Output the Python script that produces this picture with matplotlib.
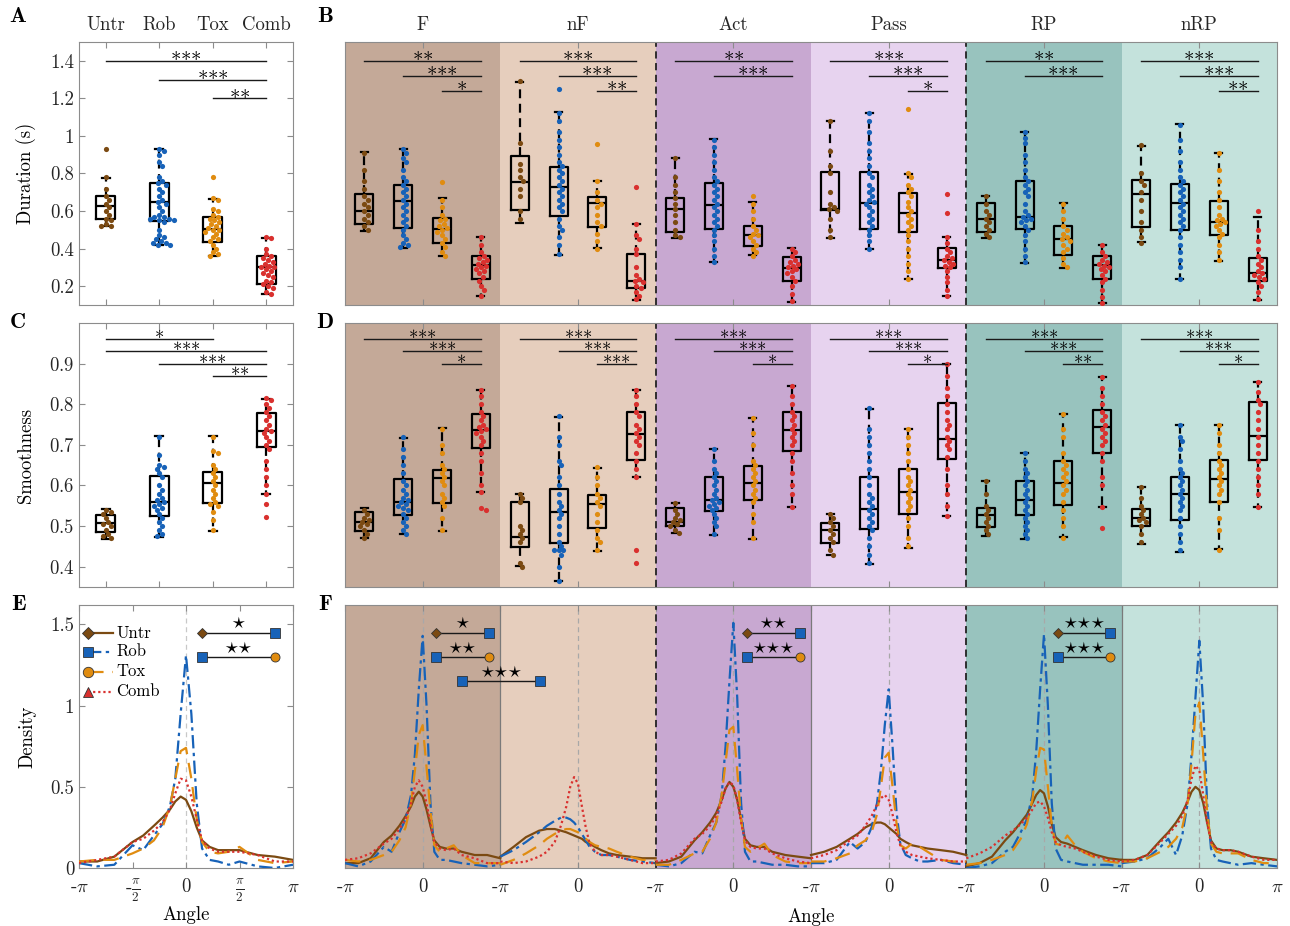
import matplotlib
matplotlib.use('Agg')
import numpy as np
import matplotlib.pyplot as plt

plt.rcParams['font.family'] = 'serif'
plt.rcParams['font.serif'] = ['cmr10']
plt.rcParams['mathtext.fontset'] = 'cm'
plt.rcParams['axes.unicode_minus'] = False
plt.rcParams['axes.formatter.use_mathtext'] = True

GROUPS = ['Untr', 'Rob', 'Tox', 'Comb']
COLORS = ['#7b4a12', '#1762b8', '#e08c10', '#d9302e']
MARKERS = ['D', 's', 'o', '^']
SECTIONS = ['F', 'nF', 'Act', 'Pass', 'RP', 'nRP']
SEC_BG = ['#c4a998', '#e6cebd', '#c8a8d1', '#e7d3ef', '#98c3be', '#c4e2dc']

# ---- duration: box stats [q1, median, q3, whisker low, whisker high] ----
DUR_BOX_ALL = [[0.556, 0.627, 0.68, 0.52, 0.778], [0.548, 0.646, 0.751, 0.42, 0.93],
               [0.436, 0.504, 0.57, 0.36, 0.664], [0.214, 0.30, 0.36, 0.16, 0.454]]
DUR_BOX_F = [[0.531, 0.602, 0.689, 0.495, 0.913], [0.511, 0.655, 0.739, 0.404, 0.929],
             [0.428, 0.506, 0.561, 0.36, 0.668], [0.237, 0.312, 0.362, 0.148, 0.46]]
DUR_BOX_NF = [[0.605, 0.755, 0.893, 0.538, 1.286], [0.573, 0.73, 0.833, 0.365, 1.126],
              [0.516, 0.641, 0.676, 0.401, 0.76], [0.188, 0.228, 0.371, 0.125, 0.529]]
DUR_BOX_ACT = [[0.49, 0.609, 0.668, 0.454, 0.881], [0.502, 0.632, 0.751, 0.33, 0.982],
               [0.413, 0.47, 0.522, 0.364, 0.646], [0.227, 0.298, 0.356, 0.116, 0.406]]
DUR_BOX_PASS = [[0.605, 0.61, 0.81, 0.458, 1.082], [0.504, 0.644, 0.81, 0.396, 1.124],
                [0.486, 0.591, 0.694, 0.241, 0.797], [0.298, 0.339, 0.404, 0.148, 0.46]]
DUR_BOX_RP = [[0.49, 0.556, 0.644, 0.454, 0.682], [0.502, 0.566, 0.76, 0.326, 1.023],
              [0.365, 0.451, 0.52, 0.298, 0.644], [0.236, 0.312, 0.36, 0.111, 0.418]]
DUR_BOX_NRP = [[0.516, 0.689, 0.765, 0.433, 0.948], [0.499, 0.641, 0.742, 0.237, 1.064],
               [0.472, 0.54, 0.653, 0.335, 0.908], [0.229, 0.273, 0.351, 0.129, 0.568]]

# ---- duration: individual points ----
DUR_PTS_ALL = [
    [0.93, 0.78, 0.72, 0.68, 0.66, 0.64, 0.62, 0.60, 0.58, 0.56, 0.55, 0.53, 0.52, 0.52],
    [0.93, 0.92, 0.90, 0.86, 0.84, 0.78, 0.76, 0.75, 0.74, 0.72, 0.70, 0.68, 0.66, 0.65, 0.64, 0.62, 0.60,
     0.58, 0.57, 0.57, 0.56, 0.56, 0.55, 0.55, 0.54, 0.50, 0.47, 0.46, 0.45, 0.44, 0.43, 0.43, 0.42, 0.42],
    [0.78, 0.67, 0.66, 0.61, 0.60, 0.58, 0.57, 0.56, 0.55, 0.54, 0.53, 0.52, 0.51, 0.50, 0.50, 0.49, 0.48,
     0.46, 0.45, 0.44, 0.42, 0.40, 0.38, 0.37, 0.36],
    [0.46, 0.455, 0.40, 0.37, 0.36, 0.35, 0.34, 0.33, 0.32, 0.31, 0.30, 0.30, 0.29, 0.28, 0.27, 0.26, 0.25,
     0.23, 0.22, 0.21, 0.20, 0.19, 0.17, 0.16]]
DUR_PTS_F = [
    [0.91, 0.82, 0.76, 0.72, 0.68, 0.66, 0.64, 0.62, 0.60, 0.58, 0.56, 0.54, 0.52, 0.50],
    [0.93, 0.91, 0.88, 0.86, 0.82, 0.78, 0.76, 0.74, 0.72, 0.70, 0.68, 0.66, 0.64, 0.62, 0.60, 0.58, 0.56,
     0.54, 0.52, 0.50, 0.47, 0.45, 0.43, 0.42, 0.41],
    [0.756, 0.66, 0.62, 0.58, 0.56, 0.55, 0.53, 0.52, 0.51, 0.50, 0.49, 0.47, 0.45, 0.43, 0.41, 0.38, 0.36],
    [0.46, 0.42, 0.38, 0.36, 0.35, 0.34, 0.33, 0.32, 0.31, 0.30, 0.29, 0.28, 0.27, 0.25, 0.23, 0.20, 0.18, 0.15]]
DUR_PTS_NF = [
    [1.29, 0.96, 0.85, 0.82, 0.78, 0.76, 0.72, 0.68, 0.60, 0.56],
    [1.25, 1.12, 1.08, 1.02, 0.98, 0.94, 0.90, 0.86, 0.84, 0.82, 0.80, 0.78, 0.76, 0.74, 0.72, 0.70, 0.68,
     0.66, 0.64, 0.62, 0.60, 0.56, 0.52, 0.50, 0.46, 0.42, 0.37],
    [0.957, 0.76, 0.70, 0.66, 0.64, 0.62, 0.58, 0.54, 0.52, 0.48, 0.44, 0.40],
    [0.726, 0.53, 0.47, 0.45, 0.40, 0.37, 0.30, 0.26, 0.24, 0.23, 0.22, 0.20, 0.19, 0.17, 0.15, 0.13]]
DUR_PTS_ACT = [
    [0.88, 0.78, 0.74, 0.70, 0.67, 0.64, 0.61, 0.58, 0.54, 0.50, 0.47, 0.46],
    [0.98, 0.94, 0.90, 0.86, 0.82, 0.78, 0.76, 0.74, 0.72, 0.70, 0.68, 0.66, 0.64, 0.62, 0.60, 0.58, 0.56,
     0.54, 0.52, 0.50, 0.47, 0.44, 0.40, 0.36, 0.33],
    [0.68, 0.64, 0.60, 0.56, 0.52, 0.50, 0.48, 0.47, 0.46, 0.44, 0.42, 0.40, 0.38, 0.36],
    [0.40, 0.38, 0.36, 0.34, 0.33, 0.32, 0.31, 0.30, 0.29, 0.28, 0.27, 0.25, 0.23, 0.20, 0.16, 0.12]]
DUR_PTS_PASS = [
    [1.08, 0.92, 0.84, 0.80, 0.70, 0.64, 0.62, 0.61, 0.60, 0.56, 0.50, 0.46],
    [1.12, 1.08, 1.02, 0.96, 0.92, 0.88, 0.84, 0.80, 0.78, 0.74, 0.72, 0.70, 0.68, 0.66, 0.65, 0.64, 0.62,
     0.60, 0.58, 0.56, 0.54, 0.52, 0.50, 0.47, 0.44, 0.40],
    [1.144, 0.80, 0.78, 0.74, 0.72, 0.70, 0.68, 0.65, 0.62, 0.60, 0.58, 0.56, 0.54, 0.52, 0.50, 0.47, 0.44,
     0.40, 0.36, 0.32, 0.28, 0.24],
    [0.689, 0.588, 0.46, 0.43, 0.40, 0.38, 0.36, 0.35, 0.34, 0.33, 0.32, 0.31, 0.30, 0.28, 0.25, 0.22, 0.18, 0.15]]
DUR_PTS_RP = [
    [0.68, 0.64, 0.60, 0.58, 0.56, 0.54, 0.52, 0.50, 0.48, 0.46],
    [1.02, 0.99, 0.96, 0.90, 0.86, 0.82, 0.78, 0.76, 0.74, 0.72, 0.70, 0.68, 0.64, 0.60, 0.58, 0.57, 0.56,
     0.55, 0.54, 0.52, 0.50, 0.47, 0.44, 0.40, 0.36, 0.33],
    [0.64, 0.60, 0.56, 0.52, 0.50, 0.48, 0.46, 0.45, 0.44, 0.42, 0.40, 0.38, 0.35, 0.32, 0.30],
    [0.42, 0.38, 0.36, 0.34, 0.33, 0.32, 0.31, 0.30, 0.29, 0.28, 0.26, 0.24, 0.22, 0.18, 0.14, 0.11]]
DUR_PTS_NRP = [
    [0.95, 0.80, 0.76, 0.74, 0.70, 0.66, 0.60, 0.54, 0.50, 0.46, 0.43],
    [1.06, 0.98, 0.92, 0.86, 0.82, 0.78, 0.76, 0.74, 0.72, 0.70, 0.68, 0.66, 0.64, 0.62, 0.60, 0.58, 0.56,
     0.54, 0.52, 0.50, 0.46, 0.42, 0.38, 0.34, 0.30, 0.24],
    [0.91, 0.82, 0.76, 0.70, 0.66, 0.62, 0.58, 0.56, 0.55, 0.54, 0.53, 0.52, 0.50, 0.48, 0.46, 0.42, 0.38, 0.34],
    [0.60, 0.50, 0.44, 0.40, 0.36, 0.34, 0.32, 0.30, 0.28, 0.27, 0.26, 0.25, 0.24, 0.22, 0.20, 0.17, 0.13]]

# ---- smoothness: box stats ----
SMO_BOX_ALL = [[0.485, 0.507, 0.527, 0.467, 0.542], [0.526, 0.56, 0.624, 0.472, 0.722],
               [0.556, 0.606, 0.632, 0.488, 0.722], [0.694, 0.733, 0.778, 0.578, 0.813]]
SMO_BOX_F = [[0.488, 0.511, 0.534, 0.47, 0.544], [0.527, 0.56, 0.616, 0.48, 0.718],
             [0.556, 0.618, 0.638, 0.488, 0.741], [0.692, 0.736, 0.777, 0.585, 0.836]]
SMO_BOX_NF = [[0.449, 0.474, 0.559, 0.402, 0.579], [0.458, 0.534, 0.592, 0.365, 0.768],
              [0.495, 0.555, 0.577, 0.439, 0.644], [0.663, 0.727, 0.782, 0.622, 0.834]]
SMO_BOX_ACT = [[0.501, 0.509, 0.544, 0.482, 0.556], [0.536, 0.564, 0.622, 0.478, 0.689],
               [0.563, 0.606, 0.647, 0.468, 0.766], [0.684, 0.737, 0.782, 0.546, 0.844]]
SMO_BOX_PASS = [[0.458, 0.49, 0.507, 0.429, 0.53], [0.493, 0.542, 0.62, 0.407, 0.789],
                [0.529, 0.583, 0.641, 0.447, 0.739], [0.665, 0.715, 0.803, 0.526, 0.898]]
SMO_BOX_RP = [[0.497, 0.527, 0.544, 0.476, 0.612], [0.527, 0.563, 0.612, 0.468, 0.681],
              [0.552, 0.606, 0.659, 0.472, 0.777], [0.68, 0.743, 0.787, 0.548, 0.867]]
SMO_BOX_NRP = [[0.499, 0.521, 0.542, 0.456, 0.597], [0.515, 0.579, 0.622, 0.435, 0.75],
               [0.559, 0.615, 0.663, 0.443, 0.75], [0.662, 0.723, 0.805, 0.548, 0.855]]

# ---- smoothness: individual points ----
SMO_PTS_ALL = [
    [0.54, 0.535, 0.53, 0.52, 0.51, 0.505, 0.50, 0.49, 0.48, 0.475, 0.47],
    [0.72, 0.675, 0.65, 0.645, 0.64, 0.63, 0.62, 0.60, 0.59, 0.58, 0.57, 0.565, 0.56, 0.555, 0.55, 0.545,
     0.54, 0.53, 0.52, 0.51, 0.50, 0.49, 0.48, 0.475],
    [0.72, 0.685, 0.68, 0.65, 0.64, 0.63, 0.62, 0.61, 0.60, 0.59, 0.58, 0.57, 0.56, 0.555, 0.55, 0.535,
     0.515, 0.49],
    [0.815, 0.81, 0.80, 0.79, 0.78, 0.77, 0.76, 0.75, 0.74, 0.735, 0.73, 0.72, 0.71, 0.70, 0.69, 0.66,
     0.64, 0.62, 0.60, 0.58, 0.554, 0.523]]
SMO_PTS_F = [
    [0.54, 0.53, 0.52, 0.515, 0.51, 0.505, 0.50, 0.49, 0.48, 0.47],
    [0.72, 0.69, 0.67, 0.65, 0.63, 0.61, 0.60, 0.59, 0.58, 0.57, 0.565, 0.56, 0.555, 0.55, 0.545, 0.54,
     0.53, 0.52, 0.51, 0.50, 0.49, 0.48],
    [0.74, 0.70, 0.68, 0.65, 0.64, 0.63, 0.62, 0.61, 0.60, 0.58, 0.57, 0.56, 0.55, 0.52, 0.49],
    [0.836, 0.82, 0.80, 0.78, 0.77, 0.76, 0.75, 0.745, 0.74, 0.735, 0.73, 0.72, 0.71, 0.70, 0.68, 0.66,
     0.63, 0.60, 0.585, 0.545, 0.54]]
SMO_PTS_NF = [
    [0.58, 0.57, 0.56, 0.50, 0.49, 0.48, 0.47, 0.46, 0.41, 0.40],
    [0.77, 0.72, 0.70, 0.66, 0.65, 0.62, 0.60, 0.58, 0.56, 0.55, 0.54, 0.53, 0.52, 0.50, 0.48, 0.46, 0.45,
     0.44, 0.44, 0.44, 0.43, 0.40, 0.365],
    [0.645, 0.62, 0.60, 0.58, 0.57, 0.56, 0.55, 0.53, 0.51, 0.49, 0.47, 0.46, 0.44],
    [0.834, 0.82, 0.80, 0.78, 0.77, 0.75, 0.74, 0.73, 0.72, 0.71, 0.70, 0.68, 0.66, 0.64, 0.622, 0.441, 0.408]]
SMO_PTS_ACT = [
    [0.556, 0.54, 0.53, 0.52, 0.515, 0.51, 0.505, 0.50, 0.49, 0.482],
    [0.69, 0.66, 0.64, 0.63, 0.62, 0.61, 0.60, 0.59, 0.58, 0.57, 0.565, 0.56, 0.555, 0.55, 0.545, 0.54,
     0.53, 0.52, 0.51, 0.50, 0.48],
    [0.766, 0.73, 0.70, 0.66, 0.65, 0.64, 0.63, 0.62, 0.61, 0.60, 0.59, 0.58, 0.57, 0.56, 0.53, 0.51, 0.47],
    [0.844, 0.82, 0.80, 0.78, 0.77, 0.76, 0.75, 0.74, 0.73, 0.72, 0.71, 0.70, 0.68, 0.66, 0.63, 0.60,
     0.58, 0.546]]
SMO_PTS_PASS = [
    [0.53, 0.52, 0.51, 0.50, 0.49, 0.48, 0.47, 0.46, 0.44, 0.43],
    [0.79, 0.74, 0.72, 0.70, 0.68, 0.66, 0.64, 0.62, 0.60, 0.58, 0.57, 0.56, 0.55, 0.54, 0.53, 0.52, 0.51,
     0.50, 0.49, 0.47, 0.45, 0.43, 0.41],
    [0.74, 0.72, 0.70, 0.68, 0.66, 0.64, 0.62, 0.61, 0.60, 0.59, 0.58, 0.57, 0.56, 0.55, 0.54, 0.52, 0.50,
     0.47, 0.45],
    [0.898, 0.87, 0.84, 0.82, 0.80, 0.78, 0.76, 0.75, 0.74, 0.72, 0.71, 0.70, 0.69, 0.67, 0.64, 0.60,
     0.58, 0.55, 0.526]]
SMO_PTS_RP = [
    [0.61, 0.58, 0.55, 0.54, 0.53, 0.52, 0.51, 0.50, 0.49, 0.48],
    [0.68, 0.66, 0.64, 0.63, 0.62, 0.61, 0.60, 0.59, 0.58, 0.57, 0.56, 0.55, 0.54, 0.53, 0.52, 0.51, 0.50,
     0.49, 0.48, 0.47],
    [0.777, 0.74, 0.72, 0.68, 0.66, 0.65, 0.64, 0.63, 0.62, 0.61, 0.60, 0.59, 0.58, 0.56, 0.54, 0.52,
     0.50, 0.47],
    [0.867, 0.84, 0.82, 0.80, 0.78, 0.77, 0.76, 0.75, 0.74, 0.73, 0.72, 0.71, 0.70, 0.68, 0.66, 0.62,
     0.60, 0.548, 0.496]]
SMO_PTS_NRP = [
    [0.597, 0.57, 0.55, 0.54, 0.53, 0.52, 0.515, 0.51, 0.50, 0.48, 0.46],
    [0.75, 0.72, 0.71, 0.69, 0.66, 0.64, 0.63, 0.62, 0.61, 0.60, 0.59, 0.58, 0.57, 0.56, 0.55, 0.54, 0.52,
     0.50, 0.48, 0.46, 0.44],
    [0.75, 0.73, 0.70, 0.68, 0.66, 0.65, 0.64, 0.63, 0.62, 0.61, 0.60, 0.59, 0.58, 0.56, 0.52, 0.49, 0.44],
    [0.855, 0.83, 0.81, 0.80, 0.78, 0.76, 0.74, 0.72, 0.70, 0.68, 0.66, 0.64, 0.62, 0.60, 0.58, 0.548]]

# ---- significance stars (pairs Untr-Comb, Rob-Comb, Tox-Comb) ----
DUR_SIG_ALL = ['***', '***', '**']
DUR_SIG_SEC = [['**', '***', '*'], ['***', '***', '**'], ['**', '***', None],
               ['***', '***', '*'], ['**', '***', None], ['***', '***', '**']]
SMO_SIG_ALL = [('Untr', 'Tox', '*'), ('Untr', 'Comb', '***'), ('Rob', 'Comb', '***'), ('Tox', 'Comb', '**')]
SMO_SIG_SEC = [['***', '***', '*'], ['***', '***', '***'], ['***', '***', '*'],
               ['***', '***', '*'], ['***', '***', '**'], ['***', '***', '*']]

# ---- angle densities (angle in units of pi) ----
ANGLE = [-1, -0.83, -0.67, -0.5, -0.4, -0.3, -0.22, -0.15, -0.1, -0.05, 0,
         0.05, 0.1, 0.15, 0.22, 0.3, 0.4, 0.5, 0.67, 0.83, 1]
DENS_ALL = [
    [0.04, 0.04, 0.07, 0.16, 0.20, 0.26, 0.31, 0.36, 0.41, 0.44, 0.42, 0.35, 0.25, 0.17, 0.13, 0.11, 0.11, 0.11, 0.08, 0.07, 0.05],
    [0.03, 0.01, 0.02, 0.14, 0.11, 0.20, 0.27, 0.38, 0.55, 0.95, 1.31, 0.95, 0.40, 0.12, 0.05, 0.04, 0.02, 0.04, 0.01, 0.00, 0.02],
    [0.04, 0.05, 0.05, 0.09, 0.12, 0.17, 0.25, 0.38, 0.55, 0.72, 0.74, 0.55, 0.30, 0.16, 0.10, 0.09, 0.10, 0.13, 0.05, 0.03, 0.04],
    [0.03, 0.05, 0.07, 0.16, 0.18, 0.23, 0.28, 0.36, 0.46, 0.55, 0.54, 0.44, 0.30, 0.17, 0.12, 0.10, 0.10, 0.10, 0.08, 0.04, 0.04]]
DENS_F = [
    [0.03, 0.03, 0.06, 0.16, 0.20, 0.26, 0.32, 0.38, 0.44, 0.47, 0.44, 0.36, 0.26, 0.17, 0.13, 0.12, 0.12, 0.10, 0.08, 0.08, 0.06],
    [0.03, 0.01, 0.04, 0.13, 0.10, 0.22, 0.30, 0.45, 0.70, 1.10, 1.43, 1.00, 0.40, 0.10, 0.05, 0.05, 0.04, 0.03, 0.02, 0.01, 0.02],
    [0.05, 0.04, 0.05, 0.08, 0.10, 0.17, 0.25, 0.40, 0.60, 0.82, 0.88, 0.62, 0.35, 0.14, 0.10, 0.12, 0.14, 0.08, 0.03, 0.03, 0.03],
    [0.05, 0.06, 0.09, 0.15, 0.18, 0.24, 0.30, 0.40, 0.50, 0.54, 0.50, 0.40, 0.27, 0.16, 0.12, 0.11, 0.12, 0.08, 0.06, 0.03, 0.03]]
DENS_NF = [
    [0.07, 0.13, 0.19, 0.23, 0.24, 0.24, 0.23, 0.22, 0.21, 0.20, 0.19, 0.18, 0.16, 0.15, 0.13, 0.11, 0.09, 0.08, 0.07, 0.06, 0.06],
    [0.07, 0.11, 0.16, 0.22, 0.26, 0.29, 0.31, 0.31, 0.30, 0.28, 0.25, 0.21, 0.17, 0.13, 0.10, 0.08, 0.08, 0.07, 0.05, 0.04, 0.03],
    [0.02, 0.05, 0.09, 0.14, 0.18, 0.21, 0.23, 0.24, 0.24, 0.23, 0.22, 0.20, 0.18, 0.16, 0.14, 0.13, 0.12, 0.10, 0.07, 0.05, 0.05],
    [0.04, 0.03, 0.04, 0.07, 0.10, 0.16, 0.26, 0.38, 0.50, 0.56, 0.52, 0.38, 0.25, 0.15, 0.10, 0.08, 0.08, 0.07, 0.05, 0.03, 0.03]]
DENS_ACT = [
    [0.03, 0.04, 0.07, 0.17, 0.22, 0.28, 0.34, 0.42, 0.49, 0.53, 0.50, 0.42, 0.30, 0.18, 0.14, 0.13, 0.13, 0.10, 0.08, 0.07, 0.06],
    [0.02, 0.01, 0.03, 0.10, 0.09, 0.20, 0.28, 0.45, 0.75, 1.15, 1.51, 1.05, 0.40, 0.10, 0.04, 0.04, 0.03, 0.02, 0.02, 0.01, 0.01],
    [0.02, 0.02, 0.05, 0.09, 0.10, 0.18, 0.28, 0.45, 0.65, 0.85, 0.87, 0.60, 0.30, 0.13, 0.10, 0.12, 0.15, 0.08, 0.04, 0.03, 0.03],
    [0.04, 0.05, 0.09, 0.18, 0.21, 0.26, 0.32, 0.41, 0.49, 0.53, 0.51, 0.42, 0.28, 0.17, 0.13, 0.12, 0.12, 0.09, 0.06, 0.04, 0.03]]
DENS_PASS = [
    [0.08, 0.10, 0.13, 0.18, 0.21, 0.25, 0.27, 0.28, 0.28, 0.27, 0.25, 0.23, 0.21, 0.18, 0.16, 0.14, 0.13, 0.12, 0.11, 0.10, 0.08],
    [0.03, 0.03, 0.05, 0.16, 0.12, 0.16, 0.25, 0.40, 0.60, 0.88, 1.10, 0.75, 0.35, 0.15, 0.08, 0.06, 0.04, 0.04, 0.05, 0.03, 0.02],
    [0.04, 0.04, 0.06, 0.09, 0.14, 0.17, 0.22, 0.33, 0.50, 0.68, 0.71, 0.50, 0.28, 0.14, 0.12, 0.15, 0.13, 0.10, 0.05, 0.04, 0.04],
    [0.06, 0.08, 0.11, 0.17, 0.20, 0.26, 0.32, 0.39, 0.43, 0.45, 0.42, 0.33, 0.22, 0.14, 0.10, 0.08, 0.07, 0.06, 0.05, 0.04, 0.04]]
DENS_RP = [
    [0.01, 0.03, 0.07, 0.17, 0.22, 0.28, 0.33, 0.40, 0.45, 0.48, 0.46, 0.38, 0.27, 0.19, 0.16, 0.15, 0.13, 0.11, 0.08, 0.06, 0.05],
    [0.00, 0.01, 0.03, 0.10, 0.13, 0.22, 0.30, 0.45, 0.72, 1.10, 1.44, 1.00, 0.40, 0.12, 0.05, 0.04, 0.03, 0.02, 0.02, 0.02, 0.01],
    [0.02, 0.03, 0.05, 0.08, 0.11, 0.18, 0.27, 0.42, 0.60, 0.74, 0.73, 0.50, 0.26, 0.15, 0.14, 0.20, 0.14, 0.10, 0.06, 0.04, 0.03],
    [0.06, 0.09, 0.13, 0.20, 0.23, 0.27, 0.31, 0.36, 0.40, 0.41, 0.38, 0.31, 0.22, 0.16, 0.14, 0.13, 0.12, 0.10, 0.07, 0.05, 0.04]]
DENS_NRP = [
    [0.05, 0.05, 0.08, 0.17, 0.22, 0.28, 0.34, 0.41, 0.47, 0.50, 0.48, 0.40, 0.28, 0.17, 0.12, 0.11, 0.11, 0.10, 0.07, 0.06, 0.05],
    [0.03, 0.04, 0.06, 0.13, 0.18, 0.08, 0.20, 0.40, 0.70, 1.05, 1.40, 1.00, 0.40, 0.12, 0.05, 0.04, 0.03, 0.02, 0.03, 0.02, 0.01],
    [0.04, 0.04, 0.06, 0.10, 0.13, 0.18, 0.25, 0.40, 0.65, 0.95, 1.02, 0.70, 0.35, 0.15, 0.10, 0.09, 0.09, 0.09, 0.05, 0.03, 0.03],
    [0.04, 0.05, 0.08, 0.16, 0.21, 0.26, 0.32, 0.42, 0.55, 0.63, 0.60, 0.45, 0.28, 0.16, 0.12, 0.11, 0.11, 0.10, 0.07, 0.05, 0.05]]

DUR_BOX_SEC = [DUR_BOX_F, DUR_BOX_NF, DUR_BOX_ACT, DUR_BOX_PASS, DUR_BOX_RP, DUR_BOX_NRP]
DUR_PTS_SEC = [DUR_PTS_F, DUR_PTS_NF, DUR_PTS_ACT, DUR_PTS_PASS, DUR_PTS_RP, DUR_PTS_NRP]
SMO_BOX_SEC = [SMO_BOX_F, SMO_BOX_NF, SMO_BOX_ACT, SMO_BOX_PASS, SMO_BOX_RP, SMO_BOX_NRP]
SMO_PTS_SEC = [SMO_PTS_F, SMO_PTS_NF, SMO_PTS_ACT, SMO_PTS_PASS, SMO_PTS_RP, SMO_PTS_NRP]
DENS_SEC = [DENS_F, DENS_NF, DENS_ACT, DENS_PASS, DENS_RP, DENS_NRP]

LINESTYLES = ['-', (0, (6, 2, 1.5, 2)), (0, (7, 4)), (0, (1, 1.3))]
FRAME = '#8c8c8c'
W, H = 1290, 926


def px_axes(l, t, r, b):
    return fig.add_axes([l / W, 1 - b / H, (r - l) / W, (b - t) / H])


def style(ax):
    for s in ax.spines.values():
        s.set_color(FRAME)
        s.set_linewidth(0.8)
    ax.tick_params(direction='in', color=FRAME, length=4, width=0.8, labelsize=13.5,
                   top=True, right=True, labelcolor='#262626')


def swarm(vals, py, px, d=4.6):
    vals = np.asarray(vals, float)
    placed = []
    offs = np.zeros(len(vals))
    for i in np.argsort(vals)[::-1]:
        y = vals[i] * py
        for k in range(60):
            c = ((k + 1) // 2) * (1 if k % 2 else -1) * 0.8
            if all((c - qx) ** 2 + (y - qy) ** 2 >= d * d for qy, qx in placed):
                break
        placed.append((y, c))
        offs[i] = c / px
    return offs


def boxes(ax, box, pts, xs, width, capw, py, px):
    stats = [dict(q1=b[0], med=b[1], q3=b[2], whislo=b[3], whishi=b[4], fliers=[]) for b in box]
    lw = 1.6
    ax.bxp(stats, positions=xs, widths=width, capwidths=capw, showfliers=False, manage_ticks=False,
           boxprops=dict(color='k', lw=lw), whiskerprops=dict(color='k', lw=lw, ls=(0, (4, 2.5))),
           capprops=dict(color='k', lw=lw), medianprops=dict(color='k', lw=lw), zorder=3)
    for x, p, c in zip(xs, pts, COLORS):
        ax.scatter(x + swarm(p, py, px), p, s=14, color=c, lw=0, zorder=4)


def sig(ax, x1, x2, y, txt, fs=15, dy=-2.5):
    ax.plot([x1, x2], [y, y], color='#1a1a1a', lw=1.0, zorder=5)
    stars = r'$' + r'{\ast}' * len(txt) + r'$'
    ax.annotate(stars, ((x1 + x2) / 2, y), xytext=(0, dy), textcoords='offset points',
                ha='center', va='bottom', fontsize=fs, zorder=5)


def star_bar(ax, x1, x2, y, g1, g2, n):
    ax.plot([x1, x2], [y, y], color='#1a1a1a', lw=1.0, zorder=6)
    for x, g in ((x1, g1), (x2, g2)):
        i = GROUPS.index(g)
        ax.plot([x], [y], marker=MARKERS[i], ms=6.5 if MARKERS[i] != 'D' else 5.5, color=COLORS[i],
                mec='#333333', mew=0.6, zorder=7)
    ax.annotate(r'$' + r'{\star}' * n + r'$', ((x1 + x2) / 2, y), xytext=(0, 0.5),
                textcoords='offset points', ha='center', va='bottom', fontsize=14, zorder=7)


fig = plt.figure(figsize=(W / 100, H / 100), dpi=100)

# ---------- A ----------
axA = px_axes(79, 42, 293, 305)
style(axA)
xsA = [1, 2, 3, 4]
boxes(axA, DUR_BOX_ALL, DUR_PTS_ALL, xsA, 0.36, 0.15, 187.5, 53.3)
for (i, s), y in zip(enumerate(DUR_SIG_ALL), [1.4, 1.3, 1.2]):
    sig(axA, xsA[i], xsA[3], y, s)
axA.set_xlim(0.5, 4.5)
axA.set_ylim(0.1, 1.5)
axA.set_yticks([0.2, 0.4, 0.6, 0.8, 1.0, 1.2, 1.4])
axA.set_yticklabels(['0.2', '0.4', '0.6', '0.8', '1', '1.2', '1.4'])
axA.set_xticks(xsA)
axA.set_xticklabels(GROUPS)
axA.tick_params(axis='x', labeltop=True, labelbottom=False, pad=6)
axA.set_ylabel('Duration (s)', fontsize=13.5, labelpad=10)

# ---------- B ----------
axB = px_axes(345, 42, 1277, 305)
style(axB)
for k in range(6):
    axB.axvspan(4 * k, 4 * k + 4, color=SEC_BG[k], lw=0, zorder=0)
    xs = [4 * k + 0.5 + j for j in range(4)]
    boxes(axB, DUR_BOX_SEC[k], DUR_PTS_SEC[k], xs, 0.46, 0.18, 187.5, 38.8)
    for j, (s, y) in enumerate(zip(DUR_SIG_SEC[k], [1.4, 1.32, 1.24])):
        if s:
            sig(axB, xs[j], xs[3], y, s)
for xb in (8, 16):
    axB.axvline(xb, color='#222222', lw=1.3, ls=(0, (4, 2.5)), zorder=2)
axB.set_xlim(0, 24)
axB.set_ylim(0.1, 1.5)
axB.set_yticks([])
axB.set_xticks([4 * k + 2 for k in range(6)])
axB.set_xticklabels(SECTIONS)
axB.tick_params(axis='x', labeltop=True, labelbottom=False, pad=6)

# ---------- C ----------
axC = px_axes(79, 323, 293, 587)
style(axC)
boxes(axC, SMO_BOX_ALL, SMO_PTS_ALL, xsA, 0.36, 0.15, 406, 53.3)
for (g1, g2, s), y in zip(SMO_SIG_ALL, [0.96, 0.93, 0.90, 0.87]):
    sig(axC, GROUPS.index(g1) + 1, GROUPS.index(g2) + 1, y, s, fs=13.5, dy=-2.2)
axC.set_xlim(0.5, 4.5)
axC.set_ylim(0.35, 1.0)
axC.set_yticks([0.4, 0.5, 0.6, 0.7, 0.8, 0.9])
axC.set_xticks(xsA)
axC.set_xticklabels([])
axC.set_ylabel('Smoothness', fontsize=13.5, labelpad=10)

# ---------- D ----------
axD = px_axes(345, 323, 1277, 587)
style(axD)
for k in range(6):
    axD.axvspan(4 * k, 4 * k + 4, color=SEC_BG[k], lw=0, zorder=0)
    xs = [4 * k + 0.5 + j for j in range(4)]
    boxes(axD, SMO_BOX_SEC[k], SMO_PTS_SEC[k], xs, 0.46, 0.18, 406, 38.8)
    for j, (s, y) in enumerate(zip(SMO_SIG_SEC[k], [0.96, 0.93, 0.90])):
        if s:
            sig(axD, xs[j], xs[3], y, s, fs=13.5, dy=-2.2)
for xb in (8, 16):
    axD.axvline(xb, color='#222222', lw=1.3, ls=(0, (4, 2.5)), zorder=2)
axD.set_xlim(0, 24)
axD.set_ylim(0.35, 1.0)
axD.set_yticks([])
axD.set_xticks([4 * k + 2 for k in range(6)])
axD.set_xticklabels([])

# ---------- E ----------
ang = np.array(ANGLE) * np.pi
axE = px_axes(79, 605, 293, 868)
style(axE)
axE.axvline(0, color='#c8c8c8', lw=0.9, ls=(0, (4, 3)), zorder=1)
for i in range(4):
    axE.plot(ang, DENS_ALL[i], color=COLORS[i], ls=LINESTYLES[i], lw=1.6, zorder=3)
axE.set_xlim(-np.pi, np.pi)
axE.set_ylim(0, 1.62)
axE.set_yticks([0, 0.5, 1, 1.5])
axE.set_yticklabels(['0', '0.5', '1', '1.5'])
axE.set_xticks([-np.pi, -np.pi / 2, 0, np.pi / 2, np.pi])
axE.set_xticklabels([r'-$\pi$', r'-$\frac{\pi}{2}$', '0', r'$\frac{\pi}{2}$', r'$\pi$'])
axE.tick_params(axis='x', pad=7)
axE.set_xlabel('Angle', fontsize=13.5, labelpad=1)
axE.set_ylabel('Density', fontsize=13.5, labelpad=10)
for i, yl in enumerate([0.894, 0.822, 0.746, 0.670]):
    axE.plot([0.042, 0.16], [yl, yl], transform=axE.transAxes, color=COLORS[i], ls=LINESTYLES[i],
             lw=1.6, zorder=6)
    axE.plot([0.042], [yl], transform=axE.transAxes, marker=MARKERS[i], ms=7.5 if i else 6.5,
             color=COLORS[i], mec='#333333', mew=0.6, zorder=7)
    axE.text(0.175, yl, GROUPS[i], transform=axE.transAxes, fontsize=12, va='center', ha='left')
star_bar(axE, 0.47, 2.61, 1.45, 'Untr', 'Rob', 1)
star_bar(axE, 0.47, 2.61, 1.30, 'Rob', 'Tox', 2)

# ---------- F ----------
axF = px_axes(345, 605, 1277, 868)
style(axF)
for k in range(6):
    c0 = 2 * np.pi * k
    axF.axvspan(c0 - np.pi, c0 + np.pi, color=SEC_BG[k], lw=0, zorder=0)
    axF.axvline(c0, color='#a8a8a8', lw=0.9, ls=(0, (4, 3)), zorder=1)
    for i in range(4):
        axF.plot(ang + c0, DENS_SEC[k][i], color=COLORS[i], ls=LINESTYLES[i], lw=1.6, zorder=3)
for xb in (np.pi, 5 * np.pi, 9 * np.pi):
    axF.axvline(xb, color='#7a7a7a', lw=0.9, zorder=2)
for xb in (3 * np.pi, 7 * np.pi):
    axF.axvline(xb, color='#222222', lw=1.3, ls=(0, (4, 2.5)), zorder=2)
star_bar(axF, 0.55, 2.68, 1.45, 'Untr', 'Rob', 1)
star_bar(axF, 0.55, 2.68, 1.30, 'Rob', 'Tox', 2)
star_bar(axF, 1.6, 2 * np.pi - 1.54, 1.15, 'Rob', 'Rob', 3)
star_bar(axF, 4 * np.pi + 0.55, 4 * np.pi + 2.68, 1.45, 'Untr', 'Rob', 2)
star_bar(axF, 4 * np.pi + 0.55, 4 * np.pi + 2.68, 1.30, 'Rob', 'Tox', 3)
star_bar(axF, 8 * np.pi + 0.55, 8 * np.pi + 2.68, 1.45, 'Untr', 'Rob', 3)
star_bar(axF, 8 * np.pi + 0.55, 8 * np.pi + 2.68, 1.30, 'Rob', 'Tox', 3)
axF.set_xlim(-np.pi, 11 * np.pi)
axF.set_ylim(0, 1.62)
axF.set_yticks([])
ft = []
fl = []
for k in range(6):
    ft += [2 * np.pi * k - np.pi, 2 * np.pi * k]
    fl += [r'-$\pi$', '0']
ft.append(11 * np.pi)
fl.append(r'$\pi$')
axF.set_xticks(ft)
axF.set_xticklabels(fl)
axF.tick_params(axis='x', pad=7)
axF.set_xlabel('Angle', fontsize=13.5, labelpad=9)

# ---------- panel letters ----------
for lab, x, y in [('A', 18, 17), ('B', 325, 17), ('C', 18, 323), ('D', 325, 323),
                  ('E', 18, 605), ('F', 325, 605)]:
    fig.text(x / W, 1 - y / H, lab, fontfamily='cmb10', fontsize=16, ha='center', va='center')

fig.savefig('out.png', dpi=100)
